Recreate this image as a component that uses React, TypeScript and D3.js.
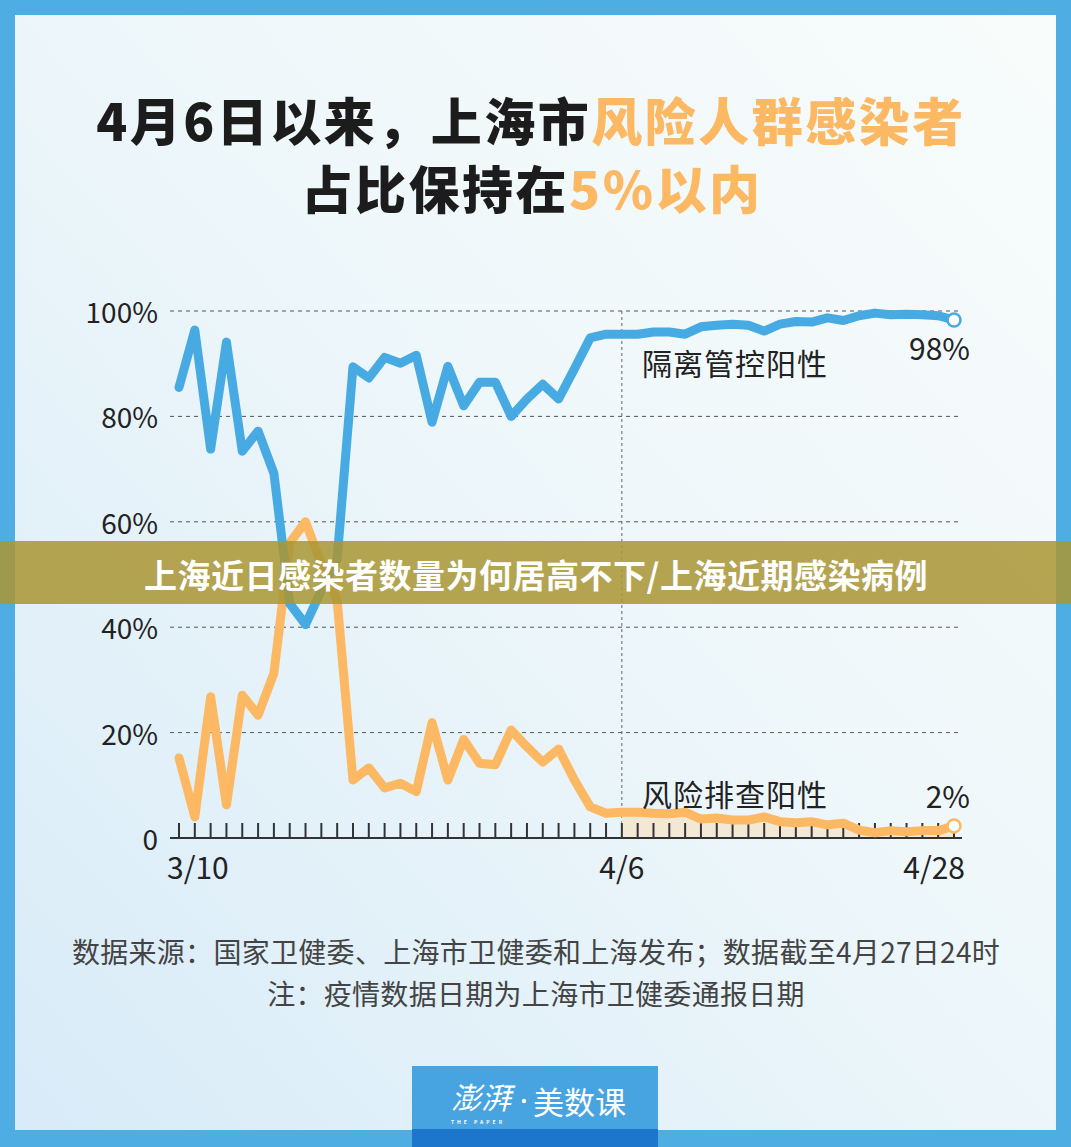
import React from "react";
import * as d3 from "d3";

// share of new infections, in %, one value per report day (3/10 .. 4/28)
const quarantined = [
  85.5, 96.4, 73.8, 94.1, 73.4, 77.2, 69.2, 44.5, 40.5, 47, 53, 89.4, 87.3, 91.2, 90.1, 91.6,
  78.9, 89.5, 82, 86.5, 86.5, 80, 83.3, 86.1, 83.3, 89, 94.9, 95.6, 95.6, 95.6, 96, 96, 95.6,
  97, 97.3, 97.5, 97.3, 96.2, 97.5, 98, 97.9, 98.7, 98.2, 99.1, 99.6, 99.3, 99.4, 99.3, 99.1, 98.3,
];
const screened = [
  15.2, 4, 26.8, 6.3, 27.1, 23.3, 31.3, 56, 60, 52, 45, 11, 13.3, 9.5, 10.4, 8.8, 21.9, 11,
  18.7, 14.2, 13.9, 20.5, 17.3, 14.4, 16.9, 11, 5.9, 4.7, 4.9, 4.9, 4.7, 4.6, 4.9, 3.6, 3.8,
  3.4, 3.4, 4, 3.1, 2.9, 3.1, 2.5, 2.8, 1.5, 1, 1.4, 1.2, 1.4, 1.4, 2.3,
];
const xTicks = [
  { i: 0, label: "3/10", anchor: "start" },
  { i: 28, label: "4/6", anchor: "middle" },
  { i: 49, label: "4/28", anchor: "end" },
];
const yTicks = [0, 20, 40, 60, 80, 100];
const markerDay = 28;

const W = 1071;
const H = 1147;
const BLUE = "#47aae2";
const ORANGE = "#fdb863";
const CJK = "'Noto Sans CJK SC', 'Noto Sans', sans-serif";

export default function App() {
  const x = d3.scaleLinear().domain([0, quarantined.length - 1]).range([179, 954]);
  const y = d3.scaleLinear().domain([0, 100]).range([838, 311]);
  const idx = quarantined.map((_, i) => i);

  const line = d3
    .line<number>()
    .x((_, i) => x(i))
    .y(d => y(d));
  const area = d3
    .area<number>()
    .x(i => x(i))
    .y0(y(0))
    .y1(i => y(screened[i]));
  const tail = idx.filter(i => i >= markerDay);
  const last = quarantined.length - 1;

  return (
    <svg width={W} height={H} style={{ display: "block", position: "absolute", left: 0, top: 0 }}>
      <defs>
        <linearGradient id="bg" x1="0" y1="1" x2="1" y2="0">
          <stop offset="0" stopColor="#d8ebf8" />
          <stop offset="0.55" stopColor="#eef7fa" />
          <stop offset="1" stopColor="#f8fcfb" />
        </linearGradient>
      </defs>
      <rect width={W} height={H} fill="#4eaee4" />
      <rect x={15} y={15} width={W - 30} height={1115} fill="url(#bg)" />

      <g fontFamily={CJK} fontWeight={900} fontSize={51} textAnchor="middle" letterSpacing={2.5}>
        <text x={531} y={119} dominantBaseline="central" fill="#1c1c1c">
          4月6日以来，上海市<tspan fill={ORANGE}>风险人群感染者</tspan>
        </text>
        <text x={532} y={187} dominantBaseline="central" fill="#1c1c1c">
          占比保持在<tspan fill={ORANGE}>5%以内</tspan>
        </text>
      </g>

      {/* grid */}
      {yTicks.slice(1).map(t => (
        <line key={t} x1={170} x2={962} y1={y(t)} y2={y(t)} stroke="#555" strokeWidth={1} strokeDasharray="4 4" />
      ))}
      <line x1={x(markerDay)} x2={x(markerDay)} y1={y(100)} y2={y(0)} stroke="#666" strokeWidth={1} strokeDasharray="3 3" />

      <path d={area(tail) ?? undefined} fill="#f3e8d4" />

      {/* axis */}
      {idx.map(i => (
        <line key={i} x1={x(i)} x2={x(i)} y1={y(0) - 15} y2={y(0)} stroke="#333" strokeWidth={2} />
      ))}
      <line x1={170} x2={962} y1={y(0)} y2={y(0)} stroke="#333" strokeWidth={2} />

      <g fontFamily={CJK} fontWeight={400} fontSize={28} fill="#222">
        {yTicks.map(t => (
          <text key={t} x={158} y={y(t)} textAnchor="end" dominantBaseline="central">
            {t === 0 ? "0" : `${t}%`}
          </text>
        ))}
        {xTicks.map(t => (
          <text key={t.label} x={t.anchor === "start" ? 167 : t.anchor === "end" ? 965 : x(t.i)} y={866} fontSize={30} textAnchor={t.anchor} dominantBaseline="central">
            {t.label}
          </text>
        ))}
      </g>

      <path d={line(screened) ?? undefined} fill="none" stroke={ORANGE} strokeWidth={9} strokeLinejoin="round" strokeLinecap="round" />
      <path d={line(quarantined) ?? undefined} fill="none" stroke={BLUE} strokeWidth={9} strokeLinejoin="round" strokeLinecap="round" />
      <circle cx={x(last)} cy={y(quarantined[last])} r={6.5} fill="#fff" stroke={BLUE} strokeWidth={2.5} />
      <circle cx={x(last)} cy={y(screened[last])} r={6.5} fill="#fff" stroke={ORANGE} strokeWidth={2.5} />

      <g fontFamily={CJK} fontSize={30} fill="#222">
        <text x={642} y={362} dominantBaseline="central" letterSpacing={1}>隔离管控阳性</text>
        <text x={642} y={793} dominantBaseline="central" letterSpacing={1}>风险排查阳性</text>
        <text x={970} y={347} textAnchor="end" dominantBaseline="central">{Math.round(quarantined[last])}%</text>
        <text x={970} y={795} textAnchor="end" dominantBaseline="central">{Math.round(screened[last])}%</text>
      </g>

      <g fontFamily={CJK} fontSize={28} fill="#444" textAnchor="middle">
        <text x={536} y={951} dominantBaseline="central" letterSpacing={0.3}>数据来源：国家卫健委、上海市卫健委和上海发布；数据截至4月27日24时</text>
        <text x={536} y={993} dominantBaseline="central" letterSpacing={0.3}>注：疫情数据日期为上海市卫健委通报日期</text>
      </g>

      {/* logo */}
      <rect x={412} y={1066} width={246} height={81} fill="#48a4e1" />
      <rect x={412} y={1129} width={246} height={18} fill="#1b76cc" />
      <g fontFamily={CJK} fill="#fff">
        <text x={481} y={1096} fontSize={30} textAnchor="middle" dominantBaseline="central" fontStyle="italic">澎湃</text>
        <text x={478} y={1124} fontSize={5} textAnchor="middle" fontWeight={700} letterSpacing={3}>THE PAPER</text>
        <circle cx={524} cy={1101} r={2.2} fill="#fff" />
        <text x={533} y={1100} fontSize={31} dominantBaseline="central">美数课</text>
      </g>

      {/* banner overlay */}
      <rect x={0} y={541} width={W} height={63} fill="rgba(170,150,52,0.86)" />
      <text x={536} y={574} fontFamily={CJK} fontWeight={700} fontSize={33} fill="#fff" textAnchor="middle" dominantBaseline="central" letterSpacing={0.5}>
        上海近日感染者数量为何居高不下/上海近期感染病例
      </text>
    </svg>
  );
}
